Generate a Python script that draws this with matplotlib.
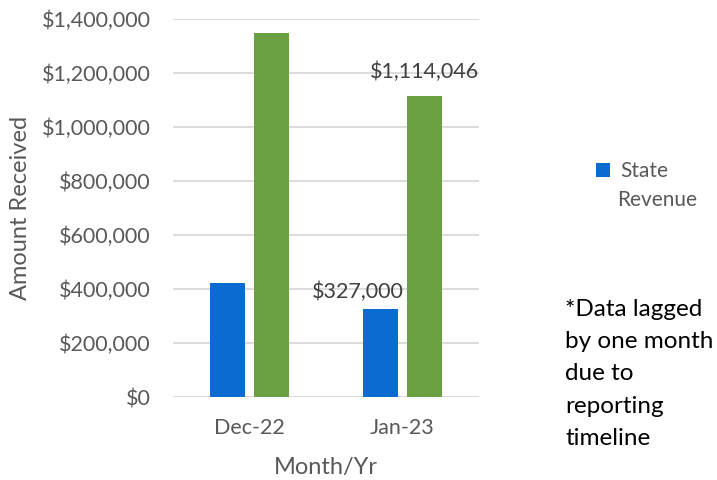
import matplotlib
matplotlib.use("Agg")
import matplotlib.pyplot as plt
from matplotlib.ticker import FuncFormatter
import numpy as np

categories = ["Dec-22", "Jan-23"]
state_revenue = [424000, 327000]
other_revenue = [1347000, 1114046]
yticks = [0, 200000, 400000, 600000, 800000, 1000000, 1200000, 1400000]

plt.rcParams['font.family'] = ['Lato', 'DejaVu Sans']
gray = '#595959'
blue = '#0A6BD0'
green = '#6A9F42'

fig = plt.figure(figsize=(7.17, 4.8), dpi=100)
ax = fig.add_axes([173/717, 1 - 397/480, (479-173)/717, (397-19)/480])

x = np.arange(len(categories))
w = 0.23
off = 0.144
b1 = ax.bar(x - off, state_revenue, w, color=blue, label="State", zorder=3)
b2 = ax.bar(x + off, other_revenue, w, color=green, zorder=3)

ax.set_xlim(-0.5, 1.5)
ax.set_ylim(0, 1400000)
ax.set_yticks(yticks)
ax.yaxis.set_major_formatter(FuncFormatter(lambda v, p: "${:,.0f}".format(v)))
ax.set_xticks(x)
ax.set_xticklabels(categories)
ax.grid(axis='y', color='#D9D9D9', linewidth=1.3, zorder=0)
for s in ax.spines.values():
    s.set_visible(False)
ax.tick_params(axis='both', length=0, labelsize=15.5, labelcolor=gray)
ax.tick_params(axis='y', pad=16)
ax.tick_params(axis='x', pad=15)
ax.set_ylabel("Amount Received", fontsize=17, color=gray, labelpad=8)
ax.set_xlabel("Month/Yr", fontsize=17, color=gray, labelpad=14)

ax.annotate("${:,.0f}".format(other_revenue[1]), (x[1] + off, other_revenue[1]),
            xytext=(0, 10), textcoords='offset points', ha='center', va='bottom',
            fontsize=15.5, color='#404040')
ax.annotate("${:,.0f}".format(state_revenue[1]), (x[1] - off, state_revenue[1]),
            xytext=(-16, 5), textcoords='offset points', ha='center', va='bottom',
            fontsize=15.5, color='#404040')

leg = fig.legend(handles=[b1], loc='center left', bbox_to_anchor=(596/717, 1 - 171/480),
                 frameon=False, fontsize=15, handlelength=0.67, handleheight=0.67,
                 handletextpad=0.5, labelcolor=gray, borderpad=0, borderaxespad=0)
fig.text(617/717, 1 - 200/480, "Revenue", fontsize=15, color=gray,
         ha='left', va='center')

fig.text(565/717, 1 - 299/480, "*Data lagged\nby one month\ndue to\nreporting\ntimeline",
         fontsize=17.5, color='black', ha='left', va='top', linespacing=1.66)

fig.savefig("out.png", dpi=100)
